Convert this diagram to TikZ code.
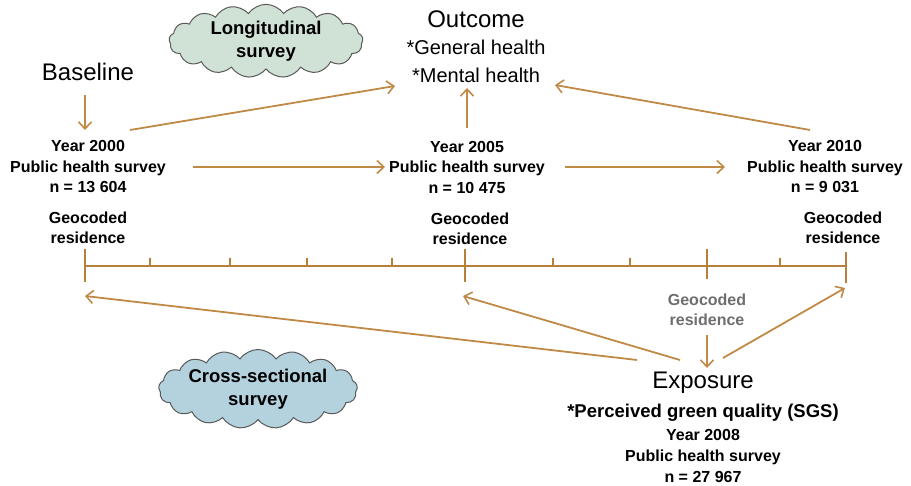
\documentclass[tikz,border=0pt]{standalone}
\usepackage{fontspec}
\setmainfont{Liberation Sans}
\usetikzlibrary{arrows.meta,shapes.symbols}
\definecolor{arrc}{RGB}{192,138,70}
\definecolor{linec}{RGB}{181,128,58}
\definecolor{cloudg}{RGB}{208,226,214}
\definecolor{cloudb}{RGB}{180,209,222}
\definecolor{geogray}{RGB}{110,110,110}
\tikzset{
  arr/.style={draw=arrc, line width=1.8pt, -{Straight Barb[length=7pt,width=13pt,line width=1.6pt]}},
  big/.style={font=\fontsize{24}{28}\selectfont, inner sep=0pt},
  med/.style={font=\fontsize{20}{28}\selectfont, align=center, inner sep=0pt},
  lbl/.style={font=\fontsize{16}{20.5}\selectfont\bfseries, align=center, inner sep=0pt},
  cloudbox/.style={cloud, cloud puffs=17, cloud puff arc=110, aspect=3.2, draw=black!65, line width=1pt,
     minimum width=194pt, minimum height=66pt, inner sep=0pt, align=center,
     font=\fontsize{18.5}{23}\selectfont\bfseries},
  major/.style={draw=linec, line width=2.6pt},
  minor/.style={draw=linec, line width=1.4pt},
}
\begin{document}
\begin{tikzpicture}[x=1pt,y=-1pt]
\useasboundingbox (0,0) rectangle (911,486);
% clouds
\node[cloudbox, fill=cloudg] (long) at (266,41) {Longitudinal\\survey};
\node[cloudbox, fill=cloudb] (cross) at (258,389) {Cross-sectional\\survey};
% outcome
\node[big] (outc) at (476,19) {Outcome};
\node[med] (outh) at (476,61) {*General health\\*Mental health};
% baseline
\node[big] (base) at (88,72) {Baseline};
% survey waves
\node[lbl] (y2000) at (88,167) {Year 2000\\Public health survey\\n = 13 604};
\node[lbl] (g2000) at (88,228) {Geocoded\\residence};
\node[lbl] (y2005) at (467,167) {Year 2005\\Public health survey\\n = 10 475};
\node[lbl] (g2005) at (470,229) {Geocoded\\residence};
\node[lbl] (y2010) at (825,167) {Year 2010\\Public health survey\\n = 9 031};
\node[lbl] (g2010) at (843,228) {Geocoded\\residence};
% exposure
\node[lbl, text=geogray] (gexp) at (707,310) {Geocoded\\residence};
\node[big] (expo) at (703,383) {Exposure};
\node[lbl, font=\fontsize{18.5}{22}\selectfont\bfseries] (sgs) at (703,413) {*Perceived green quality (SGS)};
\node[lbl, font=\fontsize{16}{21}\selectfont\bfseries] (y2008) at (703,456) {Year 2008\\Public health survey\\n = 27 967};
% timeline
\coordinate (t0) at (85,266);
\coordinate (t1) at (465,266);
\coordinate (t2) at (707,266);
\coordinate (t3) at (846,266);
\draw[draw=linec, line width=1.6pt] (t0) -- (t3);
\draw[major] ([yshift=-16pt]t0) -- ([yshift=17pt]t0);
\draw[major] ([yshift=-16pt]t1) -- ([yshift=17pt]t1);
\draw[major] ([yshift=-13pt]t2) -- ([yshift=17pt]t2);
\draw[major] ([yshift=-17pt]t3) -- ([yshift=14pt]t3);
\foreach \x in {150,230,307,392,553,630,780}
  \draw[minor] (\x,258) -- (\x,266);
% connector ends
\coordinate (b0) at (85,95);  \coordinate (b1) at (85,130);
\coordinate (o0) at (130,130); \coordinate (o1) at (395,86);
\coordinate (o2) at (467,128); \coordinate (o3) at (467,88);
\coordinate (o4) at (810,130); \coordinate (o5) at (555,85);
\coordinate (h0) at (193,167); \coordinate (h1) at (385,167);
\coordinate (h2) at (565,167); \coordinate (h3) at (725,167);
\coordinate (e0) at (707,335); \coordinate (e1) at (707,368);
\coordinate (x0) at (637,360); \coordinate (a0) at (85,296);
\coordinate (x1) at (680,360); \coordinate (a1) at (463,296);
\coordinate (x2) at (723,358); \coordinate (a2) at (845,288);
% arrows
\draw[arr] (b0) -- (b1);
\draw[arr] (o0) -- (o1);
\draw[arr] (o2) -- (o3);
\draw[arr] (o4) -- (o5);
\draw[arr] (h0) -- (h1);
\draw[arr] (h2) -- (h3);
\draw[arr] (e0) -- (e1);
\draw[arr] (x0) -- (a0);
\draw[arr] (x1) -- (a1);
\draw[arr] (x2) -- (a2);
\end{tikzpicture}
\end{document}
